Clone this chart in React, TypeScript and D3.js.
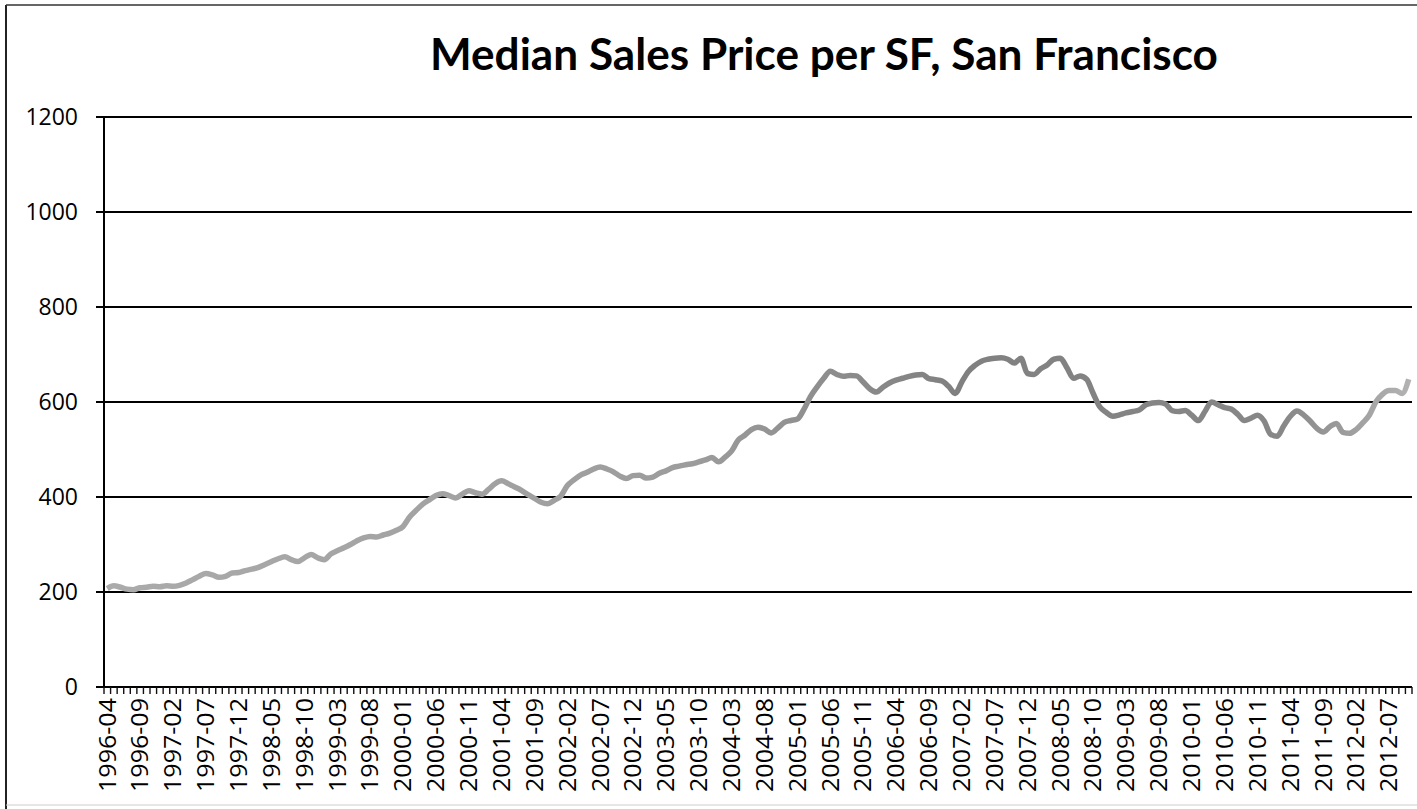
import React from "react";
import * as d3 from "d3";

const TITLE = "Median Sales Price per SF, San Francisco";
const START_YEAR = 1996;
const START_MONTH = 4;
// Monthly median sales price per square foot, 1996-04 .. 2012-10
const values: number[] = [
  207, 213, 210, 206, 205, 209, 210, 212, 211, 213, 212, 214, 219, 226, 233, 239, 236, 231, 233, 240,
  241, 245, 248, 252, 258, 264, 270, 274, 268, 264, 272, 279, 272, 268, 280, 287, 293, 300, 308, 314,
  317, 316, 320, 324, 330, 338, 358, 372, 385, 394, 403, 407, 403, 398, 406, 413, 409, 406, 416, 428,
  434, 428, 421, 414, 405, 397, 389, 386, 393, 402, 424, 436, 446, 452, 459, 463, 459, 453, 444, 439,
  445, 446, 440, 442, 450, 455, 462, 465, 468, 470, 474, 478, 483, 474, 484, 497, 520, 530, 542, 547,
  543, 535, 545, 557, 561, 564, 585, 612, 632, 650, 665, 658, 654, 656, 655, 642, 628, 621, 631, 640,
  646, 650, 654, 657, 658, 649, 647, 644, 633, 618, 642, 664, 677, 686, 690, 692, 693, 690, 682, 692,
  660, 658, 670, 678, 690, 692, 672, 650, 655, 648, 618, 590, 578, 570, 573, 577, 580, 583, 594, 598,
  599, 596, 582, 580, 582, 572, 561, 580, 600, 594, 588, 585, 574, 561, 566, 572, 560, 532, 528, 550,
  570, 581, 573, 560, 545, 537, 548, 555, 536, 534, 542, 556, 572, 600, 616, 624, 624, 618, 648,
];
const yTicks = [0, 200, 400, 600, 800, 1000, 1200];
const LABEL_EVERY = 5;

const categories: string[] = values.map((_, i) => {
  const m0 = START_MONTH - 1 + i;
  const y = START_YEAR + Math.floor(m0 / 12);
  const m = (m0 % 12) + 1;
  return `${y}-${String(m).padStart(2, "0")}`;
});

export default function App() {
  const W = 1417;
  const H = 809;
  const left = 104;
  const right = 1412;
  const top = 117;
  const bottom = 687;
  const N = values.length;

  const x = d3.scaleLinear().domain([0, N]).range([left, right]);
  const y = d3.scaleLinear().domain([0, 1200]).range([bottom, top]);
  const line = d3
    .line<number>()
    .x((_, i) => x(i + 0.5))
    .y((d) => y(d))
    .curve(d3.curveMonotoneX);

  const font = "'Open Sans', 'DejaVu Sans', sans-serif";

  return (
    <svg
      width={W}
      height={H}
      style={{ position: "absolute", left: 0, top: 0, background: "#fff" }}
    >
      <defs>
        <linearGradient id="lg" x1={left} x2={right} y1={0} y2={0} gradientUnits="userSpaceOnUse">
          <stop offset="0" stopColor="#ababab" />
          <stop offset="0.45" stopColor="#9c9c9c" />
          <stop offset="0.65" stopColor="#808080" />
          <stop offset="0.9" stopColor="#878787" />
          <stop offset="1" stopColor="#b3b3b3" />
        </linearGradient>
      </defs>
      {/* frame */}
      <line x1={6} x2={6} y1={5} y2={H} stroke="#222" strokeWidth={2} />
      <line x1={6} x2={W} y1={5} y2={5} stroke="#333" strokeWidth={1.5} />
      <line x1={6} x2={W} y1={805} y2={805} stroke="#ccc" strokeWidth={1} />

      <text
        x={824}
        y={70}
        textAnchor="middle"
        fontFamily="Lato, 'Open Sans', sans-serif"
        fontWeight={700}
        fontSize={43}
        textLength={788}
        lengthAdjust="spacingAndGlyphs"
        fill="#000"
      >
        {TITLE}
      </text>

      {/* gridlines and y labels */}
      {yTicks.map((t) => (
        <g key={t}>
          {t > 0 && (
            <line x1={96} x2={right} y1={y(t)} y2={y(t)} stroke="#000" strokeWidth={2} />
          )}
          {t === 0 && <line x1={96} x2={left} y1={y(t)} y2={y(t)} stroke="#000" strokeWidth={2} />}
          <text
            x={78}
            y={y(t)}
            dy="0.36em"
            textAnchor="end"
            fontFamily={font}
            fontSize={23}
            fill="#000"
          >
            {t}
          </text>
        </g>
      ))}

      {/* y axis */}
      <line x1={left} x2={left} y1={top} y2={bottom} stroke="#000" strokeWidth={2} />
      {/* x axis */}
      <line x1={left} x2={right} y1={bottom} y2={bottom} stroke="#000" strokeWidth={2.2} />
      {d3.range(N + 1).map((i) => (
        <line
          key={i}
          x1={x(i)}
          x2={x(i)}
          y1={bottom}
          y2={bottom + 7}
          stroke="#111"
          strokeWidth={1.4}
        />
      ))}
      {categories.map((c, i) =>
        i % LABEL_EVERY === 0 ? (
          <text
            key={c}
            transform={`translate(${x(i + 0.5)},698) rotate(-90)`}
            dy="0.36em"
            textAnchor="end"
            fontFamily={font}
            fontSize={23}
            textLength={94}
            lengthAdjust="spacingAndGlyphs"
            fill="#000"
          >
            {c}
          </text>
        ) : null
      )}

      {/* data line */}
      <path d={line(values) || ""} fill="none" stroke="url(#lg)" strokeWidth={5.5} strokeLinejoin="round" />
    </svg>
  );
}
